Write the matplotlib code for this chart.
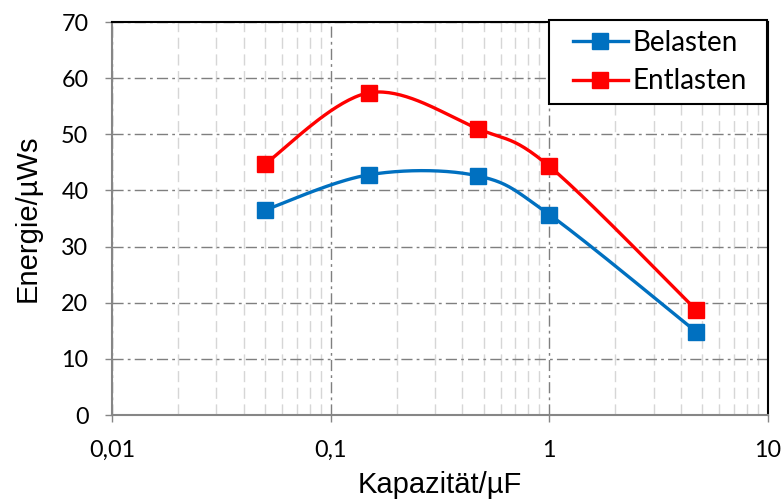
import numpy as np
import matplotlib
matplotlib.use("Agg")
import matplotlib.pyplot as plt
from matplotlib.lines import Line2D
from matplotlib.legend_handler import HandlerLine2D
from matplotlib.ticker import FixedLocator, FixedFormatter, LogLocator, NullFormatter

plt.rcParams["font.family"] = ["Liberation Sans", "DejaVu Sans"]

# Daten
kapazitaet = [0.05, 0.15, 0.47, 1.0, 4.7]          # µF
belasten = [36.5, 42.8, 42.6, 35.7, 14.8]          # µWs
entlasten = [44.7, 57.4, 51.0, 44.3, 18.7]         # µWs
x_ticks = [0.01, 0.1, 1, 10]
x_ticklabels = ["0,01", "0,1", "1", "10"]
y_ticks = [0, 10, 20, 30, 40, 50, 60, 70]

BLAU = "#0070C0"
ROT = "#FF0000"
TICKFONT = ["Lato", "DejaVu Sans"]


def excel_smooth(xs, ys, n=40):
    """Glättung wie in Excel (Bezier, Catmull-Rom) im log-x-Raum."""
    lx = np.log10(np.asarray(xs, float))
    y = np.asarray(ys, float)
    P = np.column_stack([lx, y])
    out = [P[0]]
    for i in range(len(P) - 1):
        p0 = P[i - 1] if i > 0 else P[i]
        p1, p2 = P[i], P[i + 1]
        p3 = P[i + 2] if i + 2 < len(P) else P[i + 1]
        c1 = p1 + (p2 - p0) / 6
        c2 = p2 - (p3 - p1) / 6
        t = np.linspace(0, 1, n)[1:, None]
        seg = ((1 - t) ** 3) * p1 + 3 * ((1 - t) ** 2) * t * c1 + 3 * (1 - t) * t ** 2 * c2 + t ** 3 * p2
        out.extend(seg)
    out = np.array(out)
    return 10 ** out[:, 0], out[:, 1]


fig = plt.figure(figsize=(7.84, 4.99), dpi=100)
ax = fig.add_axes([0.1429, 0.1683, 0.8367, 0.7876])

for ys, farbe in [(belasten, BLAU), (entlasten, ROT)]:
    sx, sy = excel_smooth(kapazitaet, ys)
    ax.plot(sx, sy, color=farbe, lw=2.4, zorder=3)
    ax.plot(kapazitaet, ys, ls="none", marker="s", ms=11, color=farbe, zorder=4)

ax.set_xscale("log")
ax.set_xlim(0.01, 10)
ax.set_ylim(0, 70)
ax.xaxis.set_major_locator(FixedLocator(x_ticks))
ax.xaxis.set_major_formatter(FixedFormatter(x_ticklabels))
ax.xaxis.set_minor_locator(LogLocator(base=10, subs=np.arange(2, 10)))
ax.xaxis.set_minor_formatter(NullFormatter())
ax.set_yticks(y_ticks)

# Gitternetz
ax.grid(True, which="major", axis="both", color="#7F7F7F", ls=(0, (8, 3, 2, 3)), lw=1.0)
ax.grid(True, which="minor", axis="x", color="#D6D6D6", ls=(0, (8, 4)), lw=1.0)
ax.set_axisbelow(True)

ax.tick_params(axis="both", which="major", direction="out", length=5, width=1,
               color="#868686", labelsize=16.8)
ax.tick_params(axis="y", which="major", pad=12)
ax.tick_params(axis="x", which="major", pad=13)
ax.tick_params(axis="x", which="minor", length=0)
for lbl in ax.get_xticklabels() + ax.get_yticklabels():
    lbl.set_family(TICKFONT)

for s in ["left", "bottom"]:
    ax.spines[s].set_color("#868686")
    ax.spines[s].set_linewidth(1.5)
for s in ["top", "right"]:
    ax.spines[s].set_color("black")
    ax.spines[s].set_linewidth(1.5)

ax.set_xlabel("Kapazität/µF", fontsize=21, labelpad=7)
ax.set_ylabel("Energie/µWs", fontsize=21, labelpad=14)

# Legende: Rahmen wie im Original (breiter Innenabstand links/rechts)
handles = [
    Line2D([], [], color=BLAU, lw=2.4, marker="s", ms=11),
    Line2D([], [], color=ROT, lw=2.4, marker="s", ms=11),
]
handler = HandlerLine2D(xpad=0.5)
leg = ax.legend(handles, ["Belasten", "Entlasten"], loc="upper right",
                bbox_to_anchor=(0.666, 0.5, 0.3323, 0.505), mode="expand",
                borderaxespad=0, fancybox=False,
                framealpha=1, edgecolor="black", handlelength=2.48,
                handler_map={h: handler for h in handles},
                prop={"family": TICKFONT, "size": 20},
                labelspacing=0.45, handletextpad=0.18, borderpad=0.35)
leg.get_frame().set_linewidth(1.5)

fig.savefig("out.png", dpi=100)
